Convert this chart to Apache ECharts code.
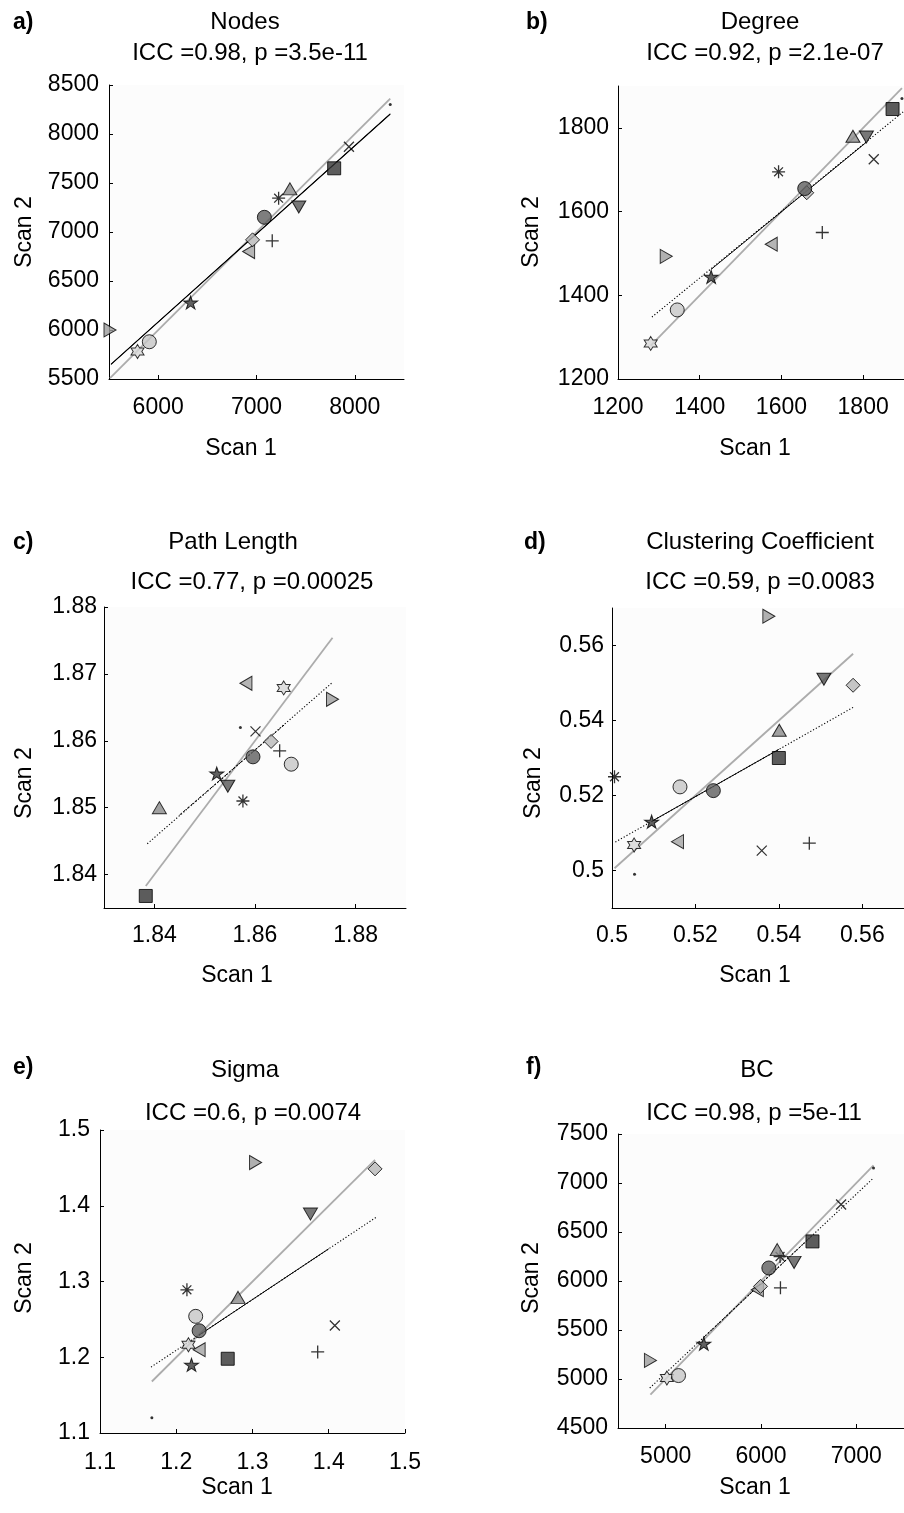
<!DOCTYPE html>
<html>
<head>
<meta charset="utf-8">
<script src="https://cdn.jsdelivr.net/npm/echarts@6/dist/echarts.min.js"></script>
<style>
html,body{margin:0;padding:0;background:#fff;}
#chart{width:904px;height:1513px;}
</style>
</head>
<body>
<div id="chart"></div>
<script>
// ---------------- DATA ----------------
// subject marker order (one marker per subject)
const subjects = ['rightTri','hexagram','lightCircle','pentagram','leftTri','diamond','plus','darkCircle','asterisk','upTri','downTri','square','cross','dot'];

const panelLetters = ['a)','b)','c)','d)','e)','f)'];
const panelTitles = ['Nodes','Degree','Path Length','Clustering Coefficient','Sigma','BC'];
const panelStats = ['ICC =0.98, p =3.5e-11','ICC =0.92, p =2.1e-07','ICC =0.77, p =0.00025','ICC =0.59, p =0.0083','ICC =0.6, p =0.0074','ICC =0.98, p =5e-11'];
const xAxisTitle = 'Scan 1';
const yAxisTitle = 'Scan 2';

// a) Nodes
const nodesScan1 = [5510, 5790, 5910, 6330, 6920, 6960, 7160, 7080, 7225, 7340, 7430, 7790, 7940, 8360];
const nodesScan2 = [6000, 5780, 5880, 6280, 6800, 6920, 6910, 7150, 7345, 7440, 7255, 7650, 7870, 8300];
// b) Degree
const degreeScan1 = [1318, 1280, 1345, 1428, 1575, 1662, 1700, 1657, 1593, 1775, 1808, 1872, 1826, 1895];
const degreeScan2 = [1493, 1285, 1365, 1444, 1522, 1645, 1550, 1655, 1695, 1780, 1778, 1845, 1725, 1870];
// c) Path Length
const pathScan1 = [1.8754, 1.8657, 1.8672, 1.8524, 1.8582, 1.8632, 1.8649, 1.8596, 1.8576, 1.8410, 1.8546, 1.8383, 1.8601, 1.8571];
const pathScan2 = [1.8662, 1.8679, 1.8565, 1.8551, 1.8686, 1.8599, 1.8585, 1.8576, 1.8510, 1.8500, 1.8532, 1.8368, 1.8614, 1.8620];
// d) Clustering Coefficient
const clustScan1 = [0.5376, 0.5053, 0.5163, 0.5095, 0.5157, 0.5578, 0.5473, 0.5243, 0.5006, 0.5401, 0.5508, 0.5400, 0.5359, 0.5054];
const clustScan2 = [0.5678, 0.5068, 0.5223, 0.5130, 0.5077, 0.5494, 0.5073, 0.5213, 0.5250, 0.5374, 0.5510, 0.5300, 0.5053, 0.4990];
// e) Sigma
const sigmaScan1 = [1.304, 1.216, 1.2255, 1.220, 1.230, 1.4607, 1.3855, 1.230, 1.214, 1.281, 1.376, 1.2675, 1.408, 1.168];
const sigmaScan2 = [1.457, 1.2165, 1.254, 1.190, 1.210, 1.4487, 1.207, 1.235, 1.289, 1.279, 1.389, 1.198, 1.242, 1.120];
// f) BC
const bcScan1 = [4840, 5013, 5135, 5400, 5962, 5995, 6204, 6082, 6200, 6170, 6347, 6540, 6840, 7180];
const bcScan2 = [5190, 5010, 5035, 5360, 5911, 5945, 5930, 6133, 6250, 6320, 6190, 6404, 6780, 7153];

// regression lines: [x1, y1, x2, y2]
const nodesFit = [5520, 5650, 8360, 8204];
const degreeFit = [1283, 1348, 1900, 1840];
const pathFit = [1.8386, 1.8446, 1.8752, 1.8686];
const clustFit = [0.5008, 0.5076, 0.5578, 0.5435];
const sigmaFit = [1.1669, 1.187, 1.4616, 1.3844];
const bcFit = [4833, 4908, 7180, 7051];
// darker (solid/dashed) middle portion of each regression line
const nodesFitMid = [5520, 5650, 8360, 8204];
const degreeFitMid = [1428, 1462, 1807, 1765];
const pathFitMid = [1.8450, 1.8489, 1.8660, 1.8625];
const clustFitMid = [0.5095, 0.5131, 0.5400, 0.5323];
const sigmaFitMid = [1.230, 1.2293, 1.400, 1.3432];
const bcFitMid = [5400, 5426, 6540, 6467];

// axis ranges and tick labels
const nodesXRange = [5500, 8500], nodesYRange = [5500, 8500];
const nodesXTicks = [6000, 7000, 8000], nodesYTicks = [5500, 6000, 6500, 7000, 7500, 8000, 8500];
const degreeXRange = [1200, 1900], degreeYRange = [1200, 1900];
const degreeXTicks = [1200, 1400, 1600, 1800], degreeYTicks = [1200, 1400, 1600, 1800];
const pathXRange = [1.83, 1.89], pathYRange = [1.835, 1.88];
const pathXTicks = [1.84, 1.86, 1.88], pathYTicks = [1.84, 1.85, 1.86, 1.87, 1.88];
const clustXRange = [0.5, 0.57], clustYRange = [0.49, 0.57];
const clustXTicks = [0.5, 0.52, 0.54, 0.56], clustYTicks = [0.5, 0.52, 0.54, 0.56];
const sigmaXRange = [1.1, 1.5], sigmaYRange = [1.1, 1.5];
const sigmaXTicks = [1.1, 1.2, 1.3, 1.4, 1.5], sigmaYTicks = [1.1, 1.2, 1.3, 1.4, 1.5];
const bcXRange = [4500, 7500], bcYRange = [4500, 7500];
const bcXTicks = [5000, 6000, 7000], bcYTicks = [4500, 5000, 5500, 6000, 6500, 7000, 7500];

// ---------------- STYLE / LAYOUT ----------------
const FONT = '"Liberation Sans", Arial, Helvetica, sans-serif';
const FS = 23;      // tick labels, axis names
const FST = 24;     // titles
const hex = 'path://M50,0 L64.4,25 L93.3,25 L78.9,50 L93.3,75 L64.4,75 L50,100 L35.6,75 L6.7,75 L21.1,50 L6.7,25 L35.6,25 Z';
const pent = 'path://M50,0 L61.2,34.5 L97.6,34.5 L68.2,55.9 L79.4,90.5 L50,69.1 L20.6,90.5 L31.8,55.9 L2.4,34.5 L38.8,34.5 Z';
const markerStyle = {
  rightTri:   {symbol:'path://M0,0 L10,5 L0,10 Z', size:[12,14], fill:'#9c9c9c'},
  hexagram:   {symbol:hex, size:[13,14], fill:'#d6d6d6'},
  lightCircle:{symbol:'circle', size:14, fill:'#c6c6c6'},
  pentagram:  {symbol:pent, size:[14,13], fill:'#383838'},
  leftTri:    {symbol:'path://M10,0 L0,5 L10,10 Z', size:[12,14], fill:'#a2a2a2'},
  diamond:    {symbol:'path://M5,0 L10,5 L5,10 L0,5 Z', size:14, fill:'#b6b6b6'},
  plus:       {symbol:'path://M5,0 L5,10 M0,5 L10,5', size:13, stroke:true},
  darkCircle: {symbol:'circle', size:14, fill:'#5e5e5e'},
  asterisk:   {symbol:'path://M5,0 L5,10 M0,5 L10,5 M1.6,1.6 L8.4,8.4 M8.4,1.6 L1.6,8.4', size:13, stroke:true},
  upTri:      {symbol:'path://M5,0 L10,9 L0,9 Z', size:[14,12], fill:'#8a8a8a'},
  downTri:    {symbol:'path://M0,0 L10,0 L5,9 Z', size:[14,12], fill:'#555555'},
  square:     {symbol:'rect', size:13, fill:'#333333'},
  cross:      {symbol:'path://M0,0 L10,10 M10,0 L0,10', size:10, stroke:true},
  dot:        {symbol:'circle', size:3, fill:'#000', noBorder:true}
};

const panels = [
  {s1:nodesScan1, s2:nodesScan2, fit:nodesFit, mid:nodesFitMid, midType:'solid', fitType:'solid',
   xr:nodesXRange, yr:nodesYRange, xt:nodesXTicks, yt:nodesYTicks,
   grid:{left:109, top:85, width:295, height:294},
   letter:[13,23], title:[245,22], stat:[250,53], xName:[241,449], yName:[25,232], xm:17, ym:10},
  {s1:degreeScan1, s2:degreeScan2, fit:degreeFit, mid:degreeFitMid, midType:'solid', fitType:'dotted',
   xr:degreeXRange, yr:degreeYRange, xt:degreeXTicks, yt:degreeYTicks,
   grid:{left:618, top:86, width:294, height:293},
   letter:[526,23], title:[760,22], stat:[765,53], xName:[755,449], yName:[532,232], xm:17, ym:9},
  {s1:pathScan1, s2:pathScan2, fit:pathFit, mid:pathFitMid, midType:[3,2], fitType:'dotted',
   xr:pathXRange, yr:pathYRange, xt:pathXTicks, yt:pathYTicks,
   grid:{left:104, top:607, width:302, height:301},
   letter:[13,543], title:[233,542], stat:[252,582], xName:[237,976], yName:[25,783], xm:16, ym:7},
  {s1:clustScan1, s2:clustScan2, fit:clustFit, mid:clustFitMid, midType:'solid', fitType:'dotted',
   xr:clustXRange, yr:clustYRange, xt:clustXTicks, yt:clustYTicks,
   grid:{left:612, top:608, width:301, height:300},
   letter:[524,543], title:[760,542], stat:[760,582], xName:[755,976], yName:[534,783], xm:16, ym:8},
  {s1:sigmaScan1, s2:sigmaScan2, fit:sigmaFit, mid:sigmaFitMid, midType:'solid', fitType:'dotted',
   xr:sigmaXRange, yr:sigmaYRange, xt:sigmaXTicks, yt:sigmaYTicks,
   grid:{left:100, top:1130, width:305, height:303},
   letter:[13,1068], title:[245,1070], stat:[253,1113], xName:[237,1488], yName:[25,1278], xm:18, ym:10},
  {s1:bcScan1, s2:bcScan2, fit:bcFit, mid:bcFitMid, midType:[3,2], fitType:'dotted',
   xr:bcXRange, yr:bcYRange, xt:bcXTicks, yt:bcYTicks,
   grid:{left:618, top:1134, width:294, height:294},
   letter:[526,1068], title:[757,1070], stat:[754,1113], xName:[755,1488], yName:[532,1278], xm:17, ym:10}
];

const fmt = v => String(Math.round(v * 100000) / 100000);

const grids = [], xAxes = [], yAxes = [], series = [], graphics = [];
panels.forEach((p, i) => {
  grids.push(Object.assign({show:true, backgroundColor:'#fcfcfc', borderWidth:0, containLabel:false}, p.grid));
  const axisCommon = {
    type:'value', gridIndex:i, splitLine:{show:false},
    axisLine:{show:true, onZero:false, lineStyle:{color:'#000', width:1}},
    axisTick:{show:true, inside:true, length:4, lineStyle:{color:'#000'}},
    axisLabel:{color:'#000', fontFamily:FONT, fontSize:FS, formatter:fmt}
  };
  xAxes.push(Object.assign({}, axisCommon, {
    min:p.xr[0], max:p.xr[1],
    axisTick:Object.assign({}, axisCommon.axisTick, {customValues:p.xt}),
    axisLabel:Object.assign({}, axisCommon.axisLabel, {customValues:p.xt, margin:p.xm})
  }));
  yAxes.push(Object.assign({}, axisCommon, {
    min:p.yr[0], max:p.yr[1],
    axisTick:Object.assign({}, axisCommon.axisTick, {customValues:p.yt}),
    axisLabel:Object.assign({}, axisCommon.axisLabel, {customValues:p.yt, margin:p.ym})
  }));
  // identity line (y = x) across the range of Scan 1
  const lo = Math.min.apply(null, p.s1), hi = Math.max.apply(null, p.s1);
  series.push({type:'line', xAxisIndex:i, yAxisIndex:i, data:[[lo, lo],[hi, hi]], showSymbol:false, silent:true,
    lineStyle:{color:'#acacac', width:1.8}, z:2});
  // regression line (full, dotted)
  series.push({type:'line', xAxisIndex:i, yAxisIndex:i, data:[[p.fit[0], p.fit[1]],[p.fit[2], p.fit[3]]], showSymbol:false, silent:true,
    lineStyle:{color:'#000', width:1.1, type:p.fitType === 'dotted' ? [1.2, 2] : 'solid'}, z:3});
  // regression line (middle portion)
  series.push({type:'line', xAxisIndex:i, yAxisIndex:i, data:[[p.mid[0], p.mid[1]],[p.mid[2], p.mid[3]]], showSymbol:false, silent:true,
    lineStyle:{color:'#000', width:1, type:p.midType}, z:3});
  // subjects
  const pts = subjects.map((name, k) => {
    const m = markerStyle[name];
    return {
      value:[p.s1[k], p.s2[k]], symbol:m.symbol, symbolSize:m.size,
      itemStyle: m.stroke ? {color:'rgba(0,0,0,0)', borderColor:'#000', borderWidth:1.3}
                 : (m.noBorder ? {color:m.fill, borderWidth:0} : {color:m.fill, borderColor:'#000', borderWidth:1})
    };
  });
  series.push({type:'scatter', xAxisIndex:i, yAxisIndex:i, data:pts, silent:true, z:5, emphasis:{disabled:true}});

  graphics.push({type:'text', x:p.letter[0], y:p.letter[1], style:{text:panelLetters[i], font:'bold ' + FS + 'px ' + FONT, fill:'#000', textAlign:'left', textVerticalAlign:'middle'}});
  graphics.push({type:'text', x:p.title[0], y:p.title[1], style:{text:panelTitles[i], font:FST + 'px ' + FONT, fill:'#000', textAlign:'center', textVerticalAlign:'middle'}});
  graphics.push({type:'text', x:p.stat[0], y:p.stat[1], style:{text:panelStats[i], font:FST + 'px ' + FONT, fill:'#000', textAlign:'center', textVerticalAlign:'middle'}});
  graphics.push({type:'text', x:p.xName[0], y:p.xName[1], style:{text:xAxisTitle, font:FS + 'px ' + FONT, fill:'#000', textAlign:'center', textVerticalAlign:'middle'}});
  graphics.push({type:'text', x:p.yName[0], y:p.yName[1], rotation:Math.PI / 2, style:{text:yAxisTitle, font:FS + 'px ' + FONT, fill:'#000', textAlign:'center', textVerticalAlign:'middle'}});
});

const chart = echarts.init(document.getElementById('chart'), null, {renderer:'canvas'});
chart.setOption({
  backgroundColor:'#ffffff',
  animation:false,
  grid:grids, xAxis:xAxes, yAxis:yAxes, series:series,
  graphic:{elements:graphics}
});
</script>
</body>
</html>
